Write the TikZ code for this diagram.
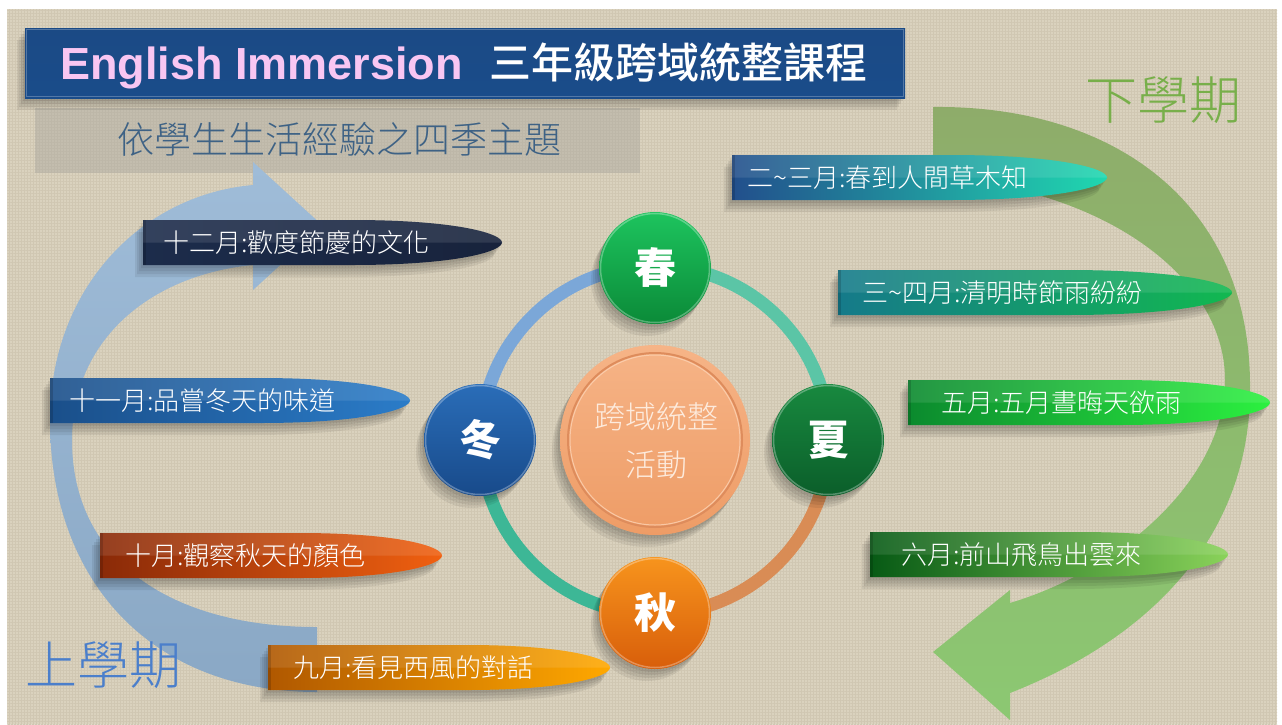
\documentclass[tikz,border=0pt]{standalone}
\usepackage{fontspec}
\setmainfont{Noto Sans CJK TC}
\IfFontExistsTF{Noto Sans CJK TC Light}{\newfontfamily\lightcjk{Noto Sans CJK TC Light}}{\newfontfamily\lightcjk{Noto Sans CJK TC}}
\IfFontExistsTF{Noto Sans CJK TC Medium}{\newfontfamily\medcjk{Noto Sans CJK TC Medium}}{\newfontfamily\medcjk{Noto Sans CJK TC}[FakeBold=1.5]}
\newfontfamily\enfont{Liberation Sans}
\usetikzlibrary{patterns.meta}
\definecolor{bg}{HTML}{DAD2BE}
\definecolor{bgline}{HTML}{D0C7B2}
\definecolor{titletop}{HTML}{1B4A85}
\definecolor{titlemid}{HTML}{2668B2}
\definecolor{titlebot}{HTML}{1A4C8A}
\definecolor{pinktext}{HTML}{F8C6F2}
\definecolor{subband}{HTML}{A8A49C}
\definecolor{subtext}{HTML}{3E6285}
\definecolor{xiacol}{HTML}{78AF4A}
\definecolor{shangcol}{HTML}{4B7FCB}
\definecolor{greentop}{HTML}{8EAC6A}
\definecolor{greenbot}{HTML}{8CC872}
\definecolor{bluetop}{HTML}{9FBCD8}
\definecolor{bluebot}{HTML}{8AA8C5}
\definecolor{ringul}{HTML}{7BA7D8}
\definecolor{ringur}{HTML}{5BC5A6}
\definecolor{ringlr}{HTML}{D98C55}
\definecolor{ringll}{HTML}{3DB796}
\definecolor{chunt}{HTML}{1DC45E}\definecolor{chunb}{HTML}{0B8A38}
\definecolor{xiat}{HTML}{18893F}\definecolor{xiab}{HTML}{0B5E2A}
\definecolor{qiut}{HTML}{F7941D}\definecolor{qiub}{HTML}{D85E0A}
\definecolor{dongt}{HTML}{2A6DB8}\definecolor{dongb}{HTML}{184A8A}
\definecolor{ctrt}{HTML}{F6B487}\definecolor{ctrb}{HTML}{EE9C66}
\definecolor{ctrring}{HTML}{DE8C5C}\definecolor{ctrhi}{HTML}{FCD2B4}
\definecolor{ctrtext}{HTML}{FDEBDD}
\definecolor{bAl}{HTML}{224F8C}\definecolor{bAm}{HTML}{2080A8}\definecolor{bAr}{HTML}{20D8B0}
\definecolor{bBl}{HTML}{1C2C4B}\definecolor{bBm}{HTML}{23528F}\definecolor{bBr}{HTML}{18233C}
\definecolor{bCl}{HTML}{157A8A}\definecolor{bCr}{HTML}{12B850}
\definecolor{bDl}{HTML}{1A4F8A}\definecolor{bDr}{HTML}{2B7CC8}
\definecolor{bEl}{HTML}{0B8A2E}\definecolor{bEr}{HTML}{2CF040}
\definecolor{bFl}{HTML}{8A2A08}\definecolor{bFr}{HTML}{F06010}
\definecolor{bGl}{HTML}{075A15}\definecolor{bGr}{HTML}{8AD25A}
\definecolor{bHl}{HTML}{B05800}\definecolor{bHr}{HTML}{FFA800}
\tikzset{
  bartext/.style={text=white, font=\lightcjk\fontsize{26}{30}\selectfont, inner sep=0pt, anchor=west},
  season/.style={text=white, font=\bfseries\fontsize{42}{46}\selectfont, inner sep=0pt},
  ringseg/.style={line width=13pt},
  shadowlayer/.style={black, fill opacity=0.07},
}
% #1 name, #2 x0, #3 y0, #4 x1, #5 shading keys, #6 text x, #7 text
\newcommand\mybanner[7]{%
  \foreach \s in {2,4,6,8}{%
    \fill[shadowlayer, shift={(-\s,{1.5*\s})}] (#2,#3) -- ({#4-0.42*(#4-#2)},#3) .. controls ({#4-0.12*(#4-#2)},#3) and (#4,{#3+14}) .. (#4,{#3+22.5}) .. controls (#4,{#3+31}) and ({#4-0.12*(#4-#2)},{#3+45}) .. ({#4-0.42*(#4-#2)},{#3+45}) -- (#2,{#3+45}) -- cycle;
  }
  \shade[#5] (#2,#3) -- ({#4-0.42*(#4-#2)},#3) .. controls ({#4-0.12*(#4-#2)},#3) and (#4,{#3+14}) .. (#4,{#3+22.5}) .. controls (#4,{#3+31}) and ({#4-0.12*(#4-#2)},{#3+45}) .. ({#4-0.42*(#4-#2)},{#3+45}) -- (#2,{#3+45}) -- cycle;
  \fill[white, fill opacity=0.10] (#2,#3) -- ({#4-0.42*(#4-#2)},#3) .. controls ({#4-0.12*(#4-#2)},#3) and (#4,{#3+14}) .. (#4,{#3+22.5}) -- (#2,{#3+22.5}) -- cycle;
  \fill[black, fill opacity=0.15] (#2,#3) rectangle ({#2+3},{#3+45});
  \node[bartext] (#1) at (#6,{#3+22.5}) {#7};
}
\newcommand\cshadow[3]{%
  \foreach \s in {2,4,6,8}{\fill[shadowlayer] ({#1-\s},{#2+1.5*\s}) circle[radius=#3];}%
}
\begin{document}
\begin{tikzpicture}[x=1pt,y=-1pt]
\useasboundingbox (0,0) rectangle (1282,724);
\fill[white] (0,0) rectangle (1282,724);
\fill[bg] (7,9) rectangle (1277,724);
\fill[pattern={Lines[distance=3pt,angle=0,line width=0.5pt]}, pattern color=bgline] (7,9) rectangle (1277,724);
\fill[pattern={Lines[distance=3pt,angle=90,line width=0.5pt]}, pattern color=bgline] (7,9) rectangle (1277,724);

% subtitle band
\fill[subband, fill opacity=0.45] (35,108) rectangle (640,173);
\node[anchor=west, inner sep=0pt, text=subtext, font=\lightcjk\fontsize{37}{40}\selectfont] (sub) at (117,139) {依學生生活經驗之四季主題};

% title bar
\foreach \s in {2,4,6,8}{\fill[shadowlayer] ({25-\s},{28+1.5*\s}) rectangle ({905-\s},{98+1.5*\s});}
\shade[top color=titletop, middle color=titlemid, bottom color=titlebot] (25,28) rectangle (905,98);
\draw[white, opacity=0.25, line width=1pt] (26.5,29.5) rectangle (903.5,96.5);
\node[anchor=base west, inner sep=0pt, text=pinktext, font=\enfont\bfseries\fontsize{45}{50}\selectfont] (t1) at (60,79) {English Immersion};
\node[anchor=west, inner sep=0pt, text=white, font=\medcjk\fontsize{42}{46}\selectfont] (t2) at (489,63) {三年級跨域統整課程};

% big arrows
\shade[top color=greentop, bottom color=greenbot] (933,107) .. controls (1110,105) and (1252,200) .. (1250,390) .. controls (1250,520) and (1170,630) .. (1010,693) -- (1010,720) -- (933,652) -- (1010,590) -- (1010,603) .. controls (1120,570) and (1225,480) .. (1225,380) .. controls (1225,270) and (1090,185) .. (933,178) -- cycle;
\shade[top color=bluetop, bottom color=bluebot] (317,692) .. controls (150,692) and (50,580) .. (50,420) .. controls (50,290) and (140,195) .. (253,185) -- (253,162) -- (323,226) -- (253,290) -- (253,265) .. controls (150,275) and (72,340) .. (72,440) .. controls (72,560) and (170,627) .. (317,627) -- cycle;

\node[text=xiacol, font=\lightcjk\fontsize{52}{56}\selectfont, inner sep=0pt] (xia) at (1163,100) {下學期};
\node[text=shangcol, font=\lightcjk\fontsize{52}{56}\selectfont, inner sep=0pt] (shang) at (103,665) {上學期};

% ring
\coordinate (ctr) at (655,440);
\draw[ringseg, ringul] ([shift={(180:174)}]ctr) arc[start angle=180, end angle=270, radius=174];
\draw[ringseg, ringur] ([shift={(270:174)}]ctr) arc[start angle=270, end angle=360, radius=174];
\draw[ringseg, ringlr] ([shift={(0:174)}]ctr) arc[start angle=0, end angle=90, radius=174];
\draw[ringseg, ringll] ([shift={(90:174)}]ctr) arc[start angle=90, end angle=180, radius=174];

% centre circle
\cshadow{655}{440}{95}
\shade[top color=ctrt, bottom color=ctrb] (ctr) circle[radius=95];
\draw[ctrring, line width=2pt] (ctr) circle[radius=87];
\draw[ctrhi, opacity=0.8, line width=1pt] (ctr) circle[radius=85];
\node[text=ctrtext, font=\lightcjk\fontsize{31}{48}\selectfont, align=center, inner sep=0pt] (act) at (656,441) {跨域統整\\活動};

% season circles
\cshadow{655}{268}{56}
\shade[top color=chunt, bottom color=chunb] (655,268) circle[radius=56];
\draw[white, opacity=0.3, line width=1.5pt] (655,268) circle[radius=54.5];
\node[season] (chun) at (655,268) {春};
\cshadow{828}{440}{56}
\shade[top color=xiat, bottom color=xiab] (828,440) circle[radius=56];
\draw[white, opacity=0.3, line width=1.5pt] (828,440) circle[radius=54.5];
\node[season] (xiaj) at (828,440) {夏};
\cshadow{655}{613}{56}
\shade[top color=qiut, bottom color=qiub] (655,613) circle[radius=56];
\draw[white, opacity=0.3, line width=1.5pt] (655,613) circle[radius=54.5];
\node[season] (qiu) at (655,613) {秋};
\cshadow{480}{440}{56}
\shade[top color=dongt, bottom color=dongb] (480,440) circle[radius=56];
\draw[white, opacity=0.3, line width=1.5pt] (480,440) circle[radius=54.5];
\node[season] (dong) at (480,440) {冬};

% month banners
\mybanner{b1}{732}{155}{1107}{left color=bAl, middle color=bAm, right color=bAr}{747}{二{\char"7E}三月:春到人間草木知}
\mybanner{b2}{143}{220}{502}{left color=bBl, middle color=bBm, right color=bBr}{163}{十二月:歡度節慶的文化}
\mybanner{b3}{838}{270}{1232}{left color=bCl, right color=bCr}{862}{三{\char"7E}四月:清明時節雨紛紛}
\mybanner{b4}{50}{378}{410}{left color=bDl, right color=bDr}{69}{十一月:品嘗冬天的味道}
\mybanner{b5}{908}{380}{1270}{left color=bEl, right color=bEr}{941}{五月:五月晝晦天欲雨}
\mybanner{b6}{100}{533}{442}{left color=bFl, right color=bFr}{125}{十月:觀察秋天的顏色}
\mybanner{b7}{870}{532}{1228}{left color=bGl, right color=bGr}{901}{六月:前山飛鳥出雲來}
\mybanner{b8}{268}{645}{610}{left color=bHl, right color=bHr}{293}{九月:看見西風的對話}
\end{tikzpicture}
\end{document}
